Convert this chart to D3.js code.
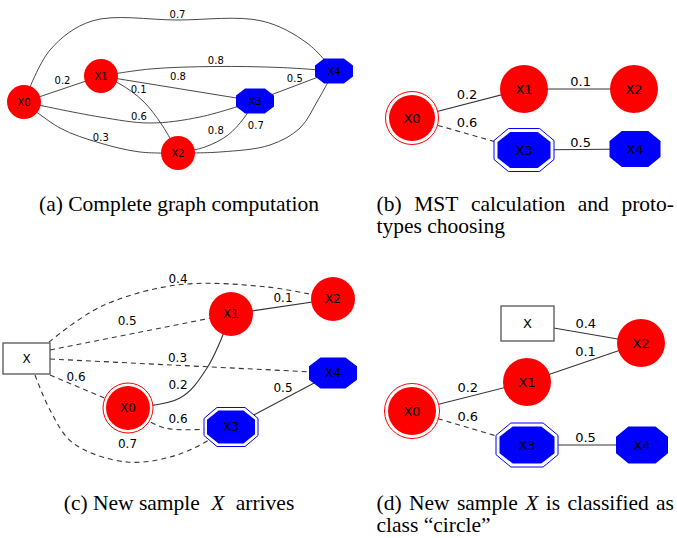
<!DOCTYPE html>
<html>
<head>
<meta charset="utf-8">
<script src="https://cdn.jsdelivr.net/npm/d3@7"></script>
<style>
  body { margin: 0; background: #fff; }
  svg { display: block; }
</style>
</head>
<body>
<svg id="fig" width="677" height="538"></svg>
<script>
// samples: first three are class "circle" (red), last two class "octagon" (blue)
const nodeNames = ['X0', 'X1', 'X2', 'X3', 'X4']
const nodeClass = ['circle', 'circle', 'circle', 'octagon', 'octagon']
const prototypes = ['X0', 'X3']
const newSample = 'X'

// edges as [source, target, weight]
const edgesA = [
	['X0', 'X4', 0.7], ['X1', 'X4', 0.8], ['X1', 'X3', 0.8], ['X1', 'X2', 0.1], ['X0', 'X1', 0.2],
	['X0', 'X3', 0.6], ['X0', 'X2', 0.3], ['X3', 'X2', 0.8], ['X4', 'X2', 0.7], ['X3', 'X4', 0.5]
]
const edgesB = [['X0', 'X1', 0.2], ['X1', 'X2', 0.1], ['X0', 'X3', 0.6], ['X3', 'X4', 0.5]]
const edgesC = [
	['X', 'X2', 0.4], ['X', 'X1', 0.5], ['X', 'X4', 0.3], ['X', 'X0', 0.6], ['X', 'X3', 0.7],
	['X0', 'X1', 0.2], ['X0', 'X3', 0.6], ['X1', 'X2', 0.1], ['X3', 'X4', 0.5]
]
const edgesD = [['X', 'X2', 0.4], ['X1', 'X2', 0.1], ['X0', 'X1', 0.2], ['X0', 'X3', 0.6], ['X3', 'X4', 0.5]]

// dashed edges (links that cross classes / candidate links of the new sample)
const dashedB = ['X0-X3']
const dashedC = ['X-X2', 'X-X1', 'X-X4', 'X-X0', 'X-X3', 'X0-X3']
const dashedD = ['X0-X3']

// captions, $X$ is the math italic X
const captions = [
	['(a) Complete graph computation'],
	['(b) MST calculation and proto-', 'types choosing'],
	['(c) New sample $X$ arrives'],
	['(d) New sample $X$ is classified as', 'class “circle”']
]

// ---- layout (drawing coordinates, local to each panel) ----
const panels = [
	{
		origin: [0, 0], edges: edgesA, dashed: [], protos: false, font: 10,
		r: 17, oct: [38, 25],
		pos: { X0: [24, 102], X1: [101, 76], X2: [178, 153], X3: [255, 101], X4: [334, 71] },
		route: {
			'X0-X4': [[50, 50], [92, 21], [177, 20], [262, 21], [307, 43]],
			'X1-X4': [[150, 69], [215, 66.5], [280, 67.5]],
			'X1-X2': [[120, 84], [143, 101], [162, 125]],
			'X0-X3': [[100, 117], [150, 123], [200, 117]],
			'X0-X2': [[60, 128], [100, 143], [140, 152]],
			'X3-X2': [[244, 118], [228, 135], [205, 147]],
			'X4-X2': [[318, 100], [300, 128], [270, 145], [220, 152]]
		},
		label: {
			'X0-X4': [177.5, 17.7], 'X1-X4': [215.8, 64], 'X1-X3': [178, 80], 'X1-X2': [138.7, 92.7],
			'X0-X1': [62.5, 84.3], 'X0-X3': [139, 120], 'X0-X2': [100.8, 141], 'X3-X2': [215.8, 134.3],
			'X4-X2': [255.8, 129], 'X3-X4': [294.8, 81.7]
		}
	},
	{
		origin: [370, 50], edges: edgesB, dashed: dashedB, protos: true, font: 13,
		r: 24, protoR: 23, oct: [51, 36], protoOct: [53, 36], ring: 3.5,
		pos: { X0: [42, 68], X1: [154, 39], X2: [264, 39], X3: [154, 100], X4: [265, 99] },
		route: {},
		label: { 'X0-X1': [97, 49], 'X0-X3': [97, 77.3], 'X1-X2': [210.7, 35.7], 'X3-X4': [210.7, 97.3] }
	},
	{
		origin: [0, 270], edges: edgesC, dashed: dashedC, protos: true, font: 12,
		r: 22, protoR: 22, oct: [48, 31], protoOct: [48, 33], ring: 3,
		box: [26.5, 88.5], boxSize: [47, 31],
		pos: { X0: [128, 138], X1: [231, 44], X2: [333, 29], X3: [231, 157], X4: [333, 103] },
		start: { 'X-X2': [49, 72], 'X-X1': [50, 80], 'X-X4': [50, 89], 'X-X0': [50, 105], 'X-X3': [35, 105] },
		route: {
			'X-X2': [[100, 37], [177, 15], [267, 17]],
			'X-X3': [[50, 140], [73, 173], [127, 192], [180, 184]],
			'X0-X1': [[180, 128], [207, 98]],
			'X0-X3': [[165, 158]]
		},
		label: {
			'X-X2': [178, 12.7], 'X1-X2': [283, 32.3], 'X-X1': [127.2, 55], 'X-X4': [177.5, 92.3],
			'X-X0': [76, 111], 'X0-X1': [178, 119], 'X3-X4': [283, 122.3], 'X0-X3': [178, 152.7],
			'X-X3': [127.5, 178.3]
		}
	},
	{
		origin: [370, 290], edges: edgesD, dashed: dashedD, protos: true, font: 13,
		r: 24, protoR: 24, oct: [52, 37], protoOct: [55, 37], ring: 3.5,
		box: [157.5, 33.5], boxSize: [53, 35],
		pos: { X0: [42, 121], X1: [157, 92], X2: [271, 53], X3: [157, 155], X4: [272, 155] },
		route: {},
		label: {
			'X-X2': [215.8, 38.3], 'X1-X2': [215.5, 65.7], 'X0-X1': [97.8, 101.7],
			'X0-X3': [97.8, 130.7], 'X3-X4': [215.5, 151.7]
		}
	}
]

const red = '#ff0000'
const blue = '#0000ff'
const edgeColor = '#353535'
const graphFont = "'DejaVu Sans', sans-serif"
const fmt = d3.format('.1f')

const svg = d3.select('#fig')

// octagon polygon points around 0,0
function octagon(w, h) {
	const fx = 0.24 * w, fy = 0.28 * h
	const x0 = -w / 2, x1 = w / 2, y0 = -h / 2, y1 = h / 2
	return [[x0 + fx, y0], [x1 - fx, y0], [x1, y0 + fy], [x1, y1 - fy],
		[x1 - fx, y1], [x0 + fx, y1], [x0, y1 - fy], [x0, y0 + fy]]
}

const curve = d3.line().curve(d3.curveCatmullRom.alpha(0.5))

panels.forEach(p => {
	const [w, h] = [360, 200]
	const x = d3.scaleLinear().domain([0, w]).range([p.origin[0], p.origin[0] + w])
	const y = d3.scaleLinear().domain([0, h]).range([p.origin[1], p.origin[1] + h])
	const where = name => name === newSample ? p.box : p.pos[name]

	const g = svg.append('g')

	// edges
	const edgeData = p.edges.map(e => {
		const key = e[0] + '-' + e[1]
		const a = (p.start && p.start[key]) || where(e[0])
		const b = where(e[1])
		const pts = [a, ...(p.route[key] || []), b].map(q => [x(q[0]), y(q[1])])
		return { key, weight: e[2], pts }
	})

	g.selectAll('path.edge')
		.data(edgeData)
		.join('path')
		.attr('class', 'edge')
		.attr('d', d => curve(d.pts))
		.attr('fill', 'none')
		.attr('stroke', edgeColor)
		.attr('stroke-width', p.font > 10 ? 1.1 : 0.9)
		.attr('stroke-dasharray', d => p.dashed.includes(d.key) ? '5,4' : null)

	// nodes
	const nodes = g.selectAll('g.node')
		.data(nodeNames.map((n, i) => ({ name: n, cls: nodeClass[i], proto: p.protos && prototypes.includes(n) })))
		.join('g')
		.attr('class', 'node')
		.attr('transform', d => `translate(${x(p.pos[d.name][0])},${y(p.pos[d.name][1])})`)

	nodes.each(function(d) {
		const n = d3.select(this)
		const col = d.cls === 'circle' ? red : blue
		if (d.cls === 'circle') {
			const r = d.proto ? p.protoR : p.r
			if (d.proto) {
				n.append('circle').attr('r', r + p.ring).attr('fill', '#fff').attr('stroke', col).attr('stroke-width', 1)
			}
			n.append('circle').attr('r', r).attr('fill', col)
		} else {
			const s = d.proto ? p.protoOct : p.oct
			if (d.proto) {
				n.append('polygon')
					.attr('points', octagon(s[0] + 2 * p.ring, s[1] + 2 * p.ring).join(' '))
					.attr('fill', '#fff').attr('stroke', col).attr('stroke-width', 1)
			}
			n.append('polygon').attr('points', octagon(s[0], s[1]).join(' ')).attr('fill', col)
		}
		n.append('text')
			.attr('text-anchor', 'middle')
			.attr('dy', '0.36em')
			.style('font-family', graphFont)
			.style('font-size', p.font + 'px')
			.attr('fill', '#000')
			.text(d.name)
	})

	// new sample box
	if (p.box) {
		const bw = p.boxSize[0], bh = p.boxSize[1]
		g.append('rect')
			.attr('x', x(p.box[0] - bw / 2))
			.attr('y', y(p.box[1] - bh / 2))
			.attr('width', bw)
			.attr('height', bh)
			.attr('fill', '#fff')
			.attr('stroke', '#555')
			.attr('stroke-width', 1.3)
		g.append('text')
			.attr('x', x(p.box[0]))
			.attr('y', y(p.box[1]))
			.attr('dy', '0.36em')
			.attr('text-anchor', 'middle')
			.style('font-family', graphFont)
			.style('font-size', p.font + 'px')
			.text(newSample)
	}

	// edge weights
	g.selectAll('text.weight')
		.data(edgeData)
		.join('text')
		.attr('class', 'weight')
		.attr('x', d => x(p.label[d.key][0]))
		.attr('y', d => y(p.label[d.key][1]))
		.attr('text-anchor', 'middle')
		.style('font-family', graphFont)
		.style('font-size', p.font + 'px')
		.text(d => fmt(d.weight))
})

// ---- captions ----
const capFont = "'Liberation Serif', 'Times New Roman', serif"
const capSize = 21.5
const cap = svg.append('g')
	.style('font-family', capFont)
	.style('font-size', capSize + 'px')
	.attr('fill', '#000')

// math X gets some extra room on both sides, like inline TeX
function addWords(text, str, mathPad) {
	let afterMath = false
	str.split(/(\$X\$)/).filter(s => s.length).forEach(s => {
		if (s === '$X$') {
			text.append('tspan').attr('dx', mathPad || null).style('font-style', 'italic').text('X')
			afterMath = true
		} else {
			text.append('tspan').attr('dx', afterMath && mathPad ? mathPad : null).text(s)
		}
	})
}

// one justified line: spread words between left and right
function justify(str, left, right, yy) {
	const words = str.split(' ')
	const els = words.map(wd => {
		const t = cap.append('text').attr('y', yy)
		addWords(t, wd)
		return t
	})
	const widths = els.map(t => t.node().getComputedTextLength())
	const gap = (right - left - d3.sum(widths)) / (words.length - 1)
	let cx = left
	els.forEach((t, i) => { t.attr('x', cx); cx += widths[i] + gap })
}

const capLeftCenter = 179
const capRight = [376.5, 674]
const capBase = [210.5, 510]
const lineGap = 22

captions.forEach((c, i) => {
	const row = Math.floor(i / 2)
	const yy = capBase[row]
	if (i % 2 === 0) {
		const t = cap.append('text').attr('x', capLeftCenter).attr('y', yy).attr('text-anchor', 'middle')
		addWords(t, c[0], 6)
	} else {
		justify(c[0], capRight[0], capRight[1], yy)
		const t = cap.append('text').attr('x', capRight[0]).attr('y', yy + lineGap)
		addWords(t, c[1])
	}
})
</script>
</body>
</html>
